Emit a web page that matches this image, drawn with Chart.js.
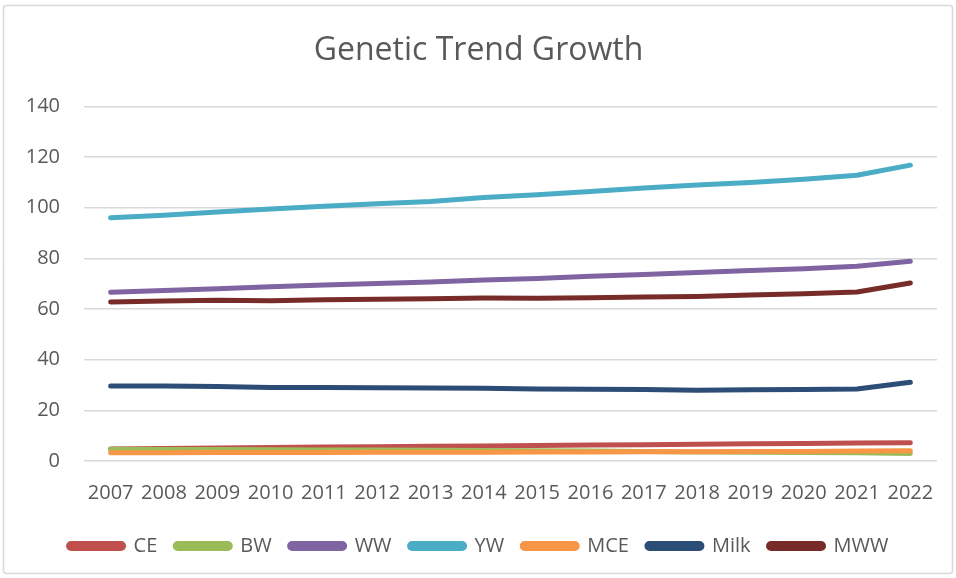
<!DOCTYPE html>
<html>
<head>
<meta charset="utf-8">
<script src="https://cdn.jsdelivr.net/npm/chart.js@4"></script>
<style>
  html, body { margin: 0; padding: 0; background: #fff; }
  #wrap { position: relative; width: 956px; height: 578px; }
</style>
</head>
<body>
<div id="wrap"><canvas id="chart" width="956" height="578"></canvas></div>
<script>
/* ===== Data ===== */
const years = ["2007","2008","2009","2010","2011","2012","2013","2014","2015","2016","2017","2018","2019","2020","2021","2022"];
const seriesNames = ["CE", "BW", "WW", "YW", "MCE", "Milk", "MWW"];

const ce   = [4.7, 4.9, 5.1, 5.3, 5.5, 5.6, 5.8, 5.9, 6.1, 6.3, 6.4, 6.6, 6.8, 6.9, 7.1, 7.2];
const bw   = [4.6, 4.5, 4.5, 4.4, 4.3, 4.3, 4.2, 4.1, 4.0, 3.9, 3.8, 3.6, 3.5, 3.4, 3.3, 3.0];
const ww   = [66.6, 67.3, 68.0, 68.8, 69.5, 70.1, 70.7, 71.5, 72.1, 72.9, 73.6, 74.4, 75.2, 75.9, 76.9, 78.9];
const yw   = [96.0, 97.0, 98.3, 99.5, 100.6, 101.6, 102.5, 104.0, 105.1, 106.4, 107.8, 109.0, 110.0, 111.2, 112.8, 116.8];
const mce  = [3.3, 3.3, 3.4, 3.4, 3.4, 3.5, 3.5, 3.5, 3.6, 3.6, 3.7, 3.7, 3.8, 3.8, 3.9, 4.0];
const milk = [29.6, 29.6, 29.4, 29.0, 29.0, 28.9, 28.8, 28.7, 28.4, 28.3, 28.2, 27.9, 28.1, 28.2, 28.4, 31.1];
const mww  = [62.8, 63.2, 63.5, 63.3, 63.7, 63.9, 64.1, 64.4, 64.3, 64.5, 64.7, 64.9, 65.5, 66.0, 66.7, 70.3];

const yTicks = [0, 20, 40, 60, 80, 100, 120, 140];

/* ===== Style ===== */
const colors = ["#C0504D", "#9BBB59", "#8064A2", "#4BACC6", "#F79646", "#2C4D75", "#772C2A"];
const textColor = "#595959";
const gridColor = "#d9d9d9";
const FONT = "'Open Sans', 'Liberation Sans', sans-serif";

const allSeries = [ce, bw, ww, yw, mce, milk, mww];

// Excel draws later series on top -> higher "order" is drawn first in Chart.js
const datasets = allSeries.map((vals, i) => ({
  label: seriesNames[i],
  data: vals,
  borderColor: colors[i],
  backgroundColor: colors[i],
  borderWidth: 5,
  borderCapStyle: "round",
  borderJoinStyle: "round",
  pointRadius: 0,
  pointHoverRadius: 0,
  tension: 0,
  fill: false,
  order: allSeries.length - i,
}));

// outer frame of the chart
const framePlugin = {
  id: "frame",
  beforeDraw(chart) {
    const c = chart.ctx;
    c.save();
    c.fillStyle = "#fff";
    c.fillRect(0, 0, chart.width, chart.height);
    c.strokeStyle = gridColor;
    c.lineWidth = 1.5;
    c.beginPath();
    c.roundRect(3.5, 5.5, 949, 568, 3);
    c.stroke();
    c.restore();
  },
};

new Chart(document.getElementById("chart"), {
  type: "line",
  data: { labels: years, datasets },
  plugins: [framePlugin],
  options: {
    responsive: false,
    animation: false,
    layout: { padding: { left: 20, right: 19, top: 32, bottom: 12 } },
    plugins: {
      title: {
        display: true,
        text: "Genetic Trend Growth",
        color: textColor,
        font: { family: FONT, size: 32, weight: "normal" },
        padding: { top: 0, bottom: 36 },
      },
      legend: {
        position: "bottom",
        labels: {
          color: textColor,
          font: { family: FONT, size: 20 },
          boxWidth: 55,
          boxHeight: 5,
          padding: 18,
          useBorderRadius: true,
          borderRadius: 2.5,
          sort: (a, b) => a.datasetIndex - b.datasetIndex,
        },
      },
      tooltip: { enabled: false },
    },
    scales: {
      x: {
        offset: true,
        grid: { display: false },
        border: { display: false },
        ticks: {
          color: textColor,
          font: { family: FONT, size: 20 },
          autoSkip: false,
          maxRotation: 0,
          padding: 12.5,
        },
      },
      y: {
        min: 0,
        max: 140,
        afterBuildTicks: (scale) => { scale.ticks = yTicks.map((v) => ({ value: v })); },
        afterFit: (scale) => { scale.width = 64; },
        grid: { color: gridColor, lineWidth: 1.5, drawTicks: false },
        border: { display: false },
        ticks: {
          color: textColor,
          font: { family: FONT, size: 20 },
          padding: 24,
        },
      },
    },
  },
});
</script>
</body>
</html>
